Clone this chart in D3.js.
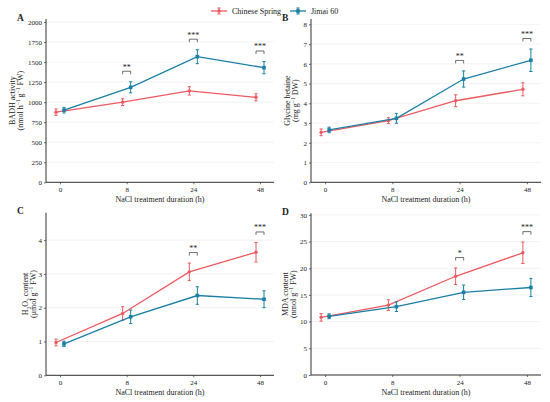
<!DOCTYPE html>
<html>
<head>
<meta charset="utf-8">
<script src="https://d3js.org/d3.v7.min.js"></script>
<style>
  body { margin: 0; background: #fff; }
  text { font-family: "Liberation Serif", "DejaVu Serif", serif; fill: #222; }
</style>
</head>
<body>
<svg></svg>
<script>
// categories
const times = ["0", "8", "24", "48"];
const series = ["Chinese Spring", "Jimai 60"];
const colors = ["#ee5a61", "#1a7fa5"];

// A: BADH activity
const badhCS = [875, 1000, 1140, 1060];
const badhCSErr = [40, 42, 52, 44];
const badhJM = [900, 1185, 1567, 1430];
const badhJMErr = [35, 69, 87, 77];
const badhSig = ["", "**", "***", "***"];
const badhTicks = [0, 250, 500, 750, 1000, 1250, 1500, 1750, 2000];

// B: glycine betaine
const gbCS = [2.53, 3.12, 4.13, 4.71];
const gbCSErr = [0.17, 0.15, 0.3, 0.33];
const gbJM = [2.65, 3.24, 5.23, 6.18];
const gbJMErr = [0.14, 0.25, 0.41, 0.57];
const gbSig = ["", "", "**", "***"];
const gbTicks = [0, 1, 2, 3, 4, 5, 6, 7, 8];

// C: H2O2 content
const h2o2CS = [0.97, 1.83, 3.06, 3.64];
const h2o2CSErr = [0.1, 0.2, 0.26, 0.29];
const h2o2JM = [0.93, 1.73, 2.36, 2.25];
const h2o2JMErr = [0.08, 0.2, 0.26, 0.25];
const h2o2Sig = ["", "", "**", "***"];
const h2o2Ticks = [0, 1, 2, 3, 4];

// D: MDA content
const mdaCS = [10.8, 13.1, 18.5, 22.9];
const mdaCSErr = [0.7, 1.0, 1.55, 2.0];
const mdaJM = [11.0, 12.8, 15.5, 16.4];
const mdaJMErr = [0.45, 0.9, 1.35, 1.7];
const mdaSig = ["", "", "*", "***"];
const mdaTicks = [0, 5, 10, 15, 20, 25, 30];

const width = 550, height = 402;
const svg = d3.select("svg").attr("width", width).attr("height", height);

const panels = [
  { label: "A", left: 46, right: 274, bottom: 182.3, top: 19, yMax: 2037,
    ticks: badhTicks, means: [badhCS, badhJM], errs: [badhCSErr, badhJMErr], sig: badhSig,
    title: [[["BADH activity"]], [["(nmol h"], ["−1", "sup"], [" g"], ["−1", "sup"], [" FW)"]]],
    titleX: [12, 20.5] },
  { label: "B", left: 311, right: 541, bottom: 182.3, top: 19, yMax: 8.27,
    ticks: gbTicks, means: [gbCS, gbJM], errs: [gbCSErr, gbJMErr], sig: gbSig,
    title: [[["Glycine betaine"]], [["(mg g"], ["−1", "sup"], [" DW)"]]],
    titleX: [287, 295.5] },
  { label: "C", left: 46, right: 274, bottom: 375.3, top: 212.7, yMax: 4.81,
    ticks: h2o2Ticks, means: [h2o2CS, h2o2JM], errs: [h2o2CSErr, h2o2JMErr], sig: h2o2Sig,
    title: [[["H"], ["2", "sub"], ["O"], ["2", "sub"], [" content"]], [["(μmol g"], ["−1", "sup"], [" FW)"]]],
    titleX: [25, 33.5] },
  { label: "D", left: 311, right: 541, bottom: 375, top: 213.3, yMax: 30.3,
    ticks: mdaTicks, means: [mdaCS, mdaJM], errs: [mdaCSErr, mdaJMErr], sig: mdaSig,
    title: [[["MDA content"]], [["(nmol g"], ["−1", "sup"], [" FW)"]]],
    titleX: [285, 293.5] }
];

const dodge = [-4, 4];

function richText(sel, parts) {
  parts.forEach(([t, kind]) => {
    const ts = sel.append("tspan").text(t);
    if (kind === "sup") ts.attr("baseline-shift", "super").attr("font-size", "5.5px");
    if (kind === "sub") ts.attr("baseline-shift", "sub").attr("font-size", "5.5px");
  });
}

function marker(g, i, x, y) {
  if (i === 0) {
    g.append("circle").attr("cx", x).attr("cy", y).attr("r", 1.7).attr("fill", colors[i]);
  } else {
    g.append("rect").attr("x", x - 1.8).attr("y", y - 1.8).attr("width", 3.6).attr("height", 3.6)
      .attr("fill", colors[i]);
  }
}

panels.forEach(p => {
  const g = svg.append("g");
  const x = d3.scalePoint().domain(times).range([p.left, p.right]).padding(0.21);
  const y = d3.scaleLinear().domain([0, p.yMax]).range([p.bottom, p.top]);

  // grid lines
  g.append("g").selectAll("line").data(p.ticks).join("line")
    .attr("x1", p.left).attr("x2", p.right)
    .attr("y1", d => y(d)).attr("y2", d => y(d))
    .attr("stroke", "#ebebeb").attr("stroke-width", 0.6);

  // axes
  const yAxis = d3.axisLeft(y).tickValues(p.ticks).tickFormat(d => d).tickSize(2).tickPadding(2);
  const xAxis = d3.axisBottom(x).tickSize(2).tickPadding(3);
  const ya = g.append("g").attr("transform", `translate(${p.left},0)`).call(yAxis);
  const xa = g.append("g").attr("transform", `translate(0,${p.bottom})`).call(xAxis);
  [ya, xa].forEach(a => {
    a.select(".domain").attr("stroke", "#333").attr("stroke-width", 1);
    a.selectAll(".tick line").attr("stroke", "#333").attr("stroke-width", 0.7);
    a.selectAll(".tick text").attr("font-size", "7px").attr("fill", "#333")
      .attr("font-family", "Liberation Serif");
  });
  xa.select(".domain").attr("d", `M${p.left},0H${p.right}`);
  ya.select(".domain").attr("d", `M0,${p.bottom}V${p.top}`);

  // x title
  g.append("text").attr("x", (p.left + p.right) / 2).attr("y", p.bottom + 20)
    .attr("text-anchor", "middle").attr("font-size", "8px").text("NaCl treatment duration (h)");

  // y title (two lines)
  const midY = (p.top + p.bottom) / 2;
  p.title.forEach((line, k) => {
    const t = g.append("text")
      .attr("transform", `translate(${p.titleX[k] + 2.8},${midY}) rotate(-90)`)
      .attr("text-anchor", "middle").attr("font-size", "8px");
    richText(t, line);
  });

  // panel letter
  g.append("text").attr("x", p.label === "A" || p.label === "C" ? 17 : 282)
    .attr("y", p.top + 1.5).attr("font-size", "9.5px").attr("font-weight", "bold").text(p.label);

  // series lines, error bars, markers
  series.forEach((s, i) => {
    const m = p.means[i], e = p.errs[i];
    const line = d3.line().x((d, j) => x(times[j]) + dodge[i]).y(d => y(d));
    g.append("path").attr("d", line(m)).attr("fill", "none")
      .attr("stroke", colors[i]).attr("stroke-width", 1.3);
    m.forEach((v, j) => {
      const cx = x(times[j]) + dodge[i];
      g.append("line").attr("x1", cx).attr("x2", cx)
        .attr("y1", y(v - e[j])).attr("y2", y(v + e[j]))
        .attr("stroke", colors[i]).attr("stroke-width", 1);
      [v - e[j], v + e[j]].forEach(b => {
        g.append("line").attr("x1", cx - 1.6).attr("x2", cx + 1.6)
          .attr("y1", y(b)).attr("y2", y(b)).attr("stroke", colors[i]).attr("stroke-width", 1);
      });
      marker(g, i, cx, y(v));
    });
  });

  // significance brackets
  p.sig.forEach((s, j) => {
    if (!s) return;
    const top = Math.max(p.means[0][j] + p.errs[0][j], p.means[1][j] + p.errs[1][j]);
    const by = y(top) - 10.5;
    const xa0 = x(times[j]) + dodge[0], xb0 = x(times[j]) + dodge[1];
    g.append("path").attr("d", `M${xa0},${by + 3}V${by}H${xb0}V${by + 3}`)
      .attr("fill", "none").attr("stroke", "#333").attr("stroke-width", 0.7);
    g.append("text").attr("x", x(times[j])).attr("y", by - 1.5)
      .attr("text-anchor", "middle").attr("font-size", "8px").attr("fill", "#333").text(s);
  });
});

// legend
const legendX = [211, 290];
series.forEach((s, i) => {
  const lg = svg.append("g").attr("transform", `translate(${legendX[i]},11)`);
  lg.append("line").attr("x1", 0).attr("x2", 16).attr("y1", 0).attr("y2", 0)
    .attr("stroke", colors[i]).attr("stroke-width", 1.3);
  lg.append("line").attr("x1", 8).attr("x2", 8).attr("y1", -3).attr("y2", 3)
    .attr("stroke", colors[i]).attr("stroke-width", 1);
  [-3, 3].forEach(b => lg.append("line").attr("x1", 6.4).attr("x2", 9.6).attr("y1", b).attr("y2", b)
    .attr("stroke", colors[i]).attr("stroke-width", 1));
  marker(lg, i, 8, 0);
  lg.append("text").attr("x", 21).attr("y", 2.8).attr("font-size", "8px").text(s);
});
</script>
</body>
</html>
